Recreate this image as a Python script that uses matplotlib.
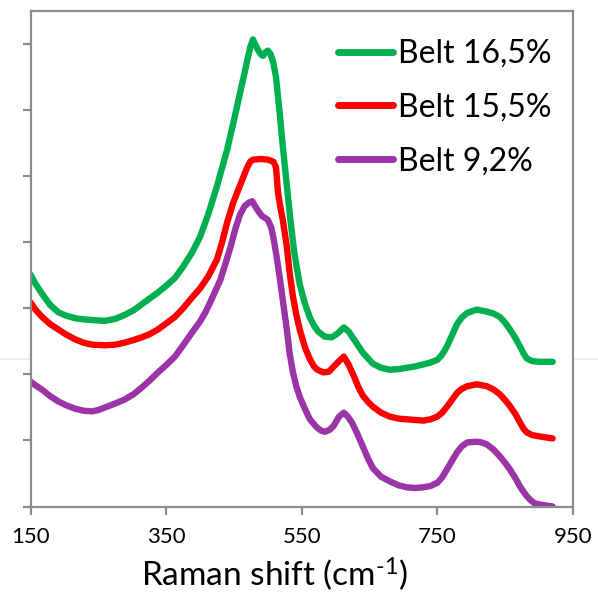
import matplotlib
matplotlib.use("Agg")
import matplotlib.pyplot as plt
from matplotlib.lines import Line2D

plt.rcParams["font.family"] = ["Lato", "DejaVu Sans"]
plt.rcParams["mathtext.fontset"] = "custom"
plt.rcParams["mathtext.rm"] = "Lato"
plt.rcParams["mathtext.it"] = "Lato:italic"
plt.rcParams["mathtext.bf"] = "Lato:bold"

# Raman spectra (arbitrary intensity units)
x_165 = [150, 158, 167, 179, 191, 202, 216, 230, 245, 260, 275, 289, 302, 314, 326,
         338, 350, 363, 375, 388, 400, 412, 425, 440, 449, 459, 469, 474, 478, 482,
         486, 490, 493, 497, 500, 504, 508, 512, 515, 518, 521, 524, 527, 530, 533,
         539, 547, 555, 562, 568, 574, 584, 594, 603, 612, 619, 627, 640, 655, 667,
         680, 693, 705, 717, 729, 740, 750, 757, 764, 772, 779, 786, 794, 808, 823,
         833, 842, 850, 857, 865, 872, 878, 882, 890, 901, 920]
y_165 = [3.51, 3.36, 3.22, 3.05, 2.94, 2.89, 2.85, 2.83, 2.82, 2.81, 2.84, 2.90, 2.97,
         3.06, 3.15, 3.24, 3.34, 3.46, 3.63, 3.84, 4.08, 4.42, 4.85, 5.40, 5.80, 6.26,
         6.72, 6.95, 7.07, 6.98, 6.90, 6.84, 6.82, 6.88, 6.90, 6.85, 6.72, 6.50, 6.20,
         5.90, 5.56, 5.26, 4.96, 4.66, 4.36, 3.84, 3.36, 3.06, 2.86, 2.74, 2.65, 2.57,
         2.56, 2.62, 2.71, 2.65, 2.53, 2.33, 2.16, 2.10, 2.07, 2.08, 2.10, 2.12, 2.15,
         2.18, 2.22, 2.30, 2.42, 2.60, 2.76, 2.86, 2.93, 2.98, 2.95, 2.92, 2.87, 2.78,
         2.68, 2.55, 2.42, 2.30, 2.24, 2.20, 2.19, 2.19]

x_155 = [150, 158, 167, 179, 191, 203, 216, 228, 241, 260, 275, 289, 302, 314, 326,
         338, 350, 363, 375, 388, 400, 412, 425, 432, 440, 449, 459, 469, 474, 478,
         490, 500, 508, 512, 515, 519, 522, 528, 532, 537, 542, 547, 555, 562, 568,
         573, 582, 590, 600, 607, 612, 619, 627, 633, 640, 648, 655, 667, 680, 693,
         705, 717, 729, 740, 750, 757, 764, 772, 779, 786, 794, 808, 823, 833, 842,
         850, 857, 865, 872, 877, 882, 890, 901, 920]
y_155 = [3.09, 2.97, 2.87, 2.76, 2.68, 2.60, 2.53, 2.48, 2.45, 2.44, 2.45, 2.48, 2.52,
         2.56, 2.61, 2.68, 2.77, 2.87, 3.00, 3.16, 3.30, 3.48, 3.74, 3.98, 4.30, 4.60,
         4.86, 5.12, 5.22, 5.25, 5.26, 5.25, 5.22, 5.14, 4.75, 4.50, 4.34, 3.93, 3.55,
         3.18, 2.90, 2.68, 2.40, 2.23, 2.12, 2.07, 2.03, 2.04, 2.15, 2.22, 2.27, 2.15,
         1.97, 1.82, 1.68, 1.58, 1.51, 1.42, 1.36, 1.33, 1.32, 1.31, 1.30, 1.32, 1.36,
         1.42, 1.51, 1.62, 1.72, 1.78, 1.82, 1.85, 1.82, 1.77, 1.70, 1.61, 1.52, 1.40,
         1.27, 1.18, 1.12, 1.08, 1.06, 1.03]

x_92 = [150, 158, 167, 179, 191, 203, 216, 228, 241, 250, 260, 275, 289, 302, 314,
        326, 338, 350, 363, 375, 388, 400, 408, 415, 422, 430, 437, 445, 452, 459,
        466, 472, 477, 484, 491, 500, 505, 508, 513, 518, 523, 528, 532, 537, 542,
        547, 555, 562, 571, 578, 584, 591, 597, 605, 612, 618, 624, 632, 640, 648,
        655, 667, 680, 693, 705, 717, 729, 740, 750, 757, 764, 772, 779, 786, 794,
        808, 815, 823, 833, 842, 850, 857, 865, 872, 880, 886, 893, 901, 920]
y_92 = [1.89, 1.83, 1.77, 1.67, 1.59, 1.53, 1.48, 1.45, 1.44, 1.46, 1.50, 1.56, 1.62,
        1.70, 1.80, 1.91, 2.03, 2.14, 2.27, 2.44, 2.63, 2.80, 2.94, 3.09, 3.25, 3.43,
        3.66, 3.93, 4.20, 4.42, 4.55, 4.60, 4.62, 4.50, 4.40, 4.34, 4.22, 4.08, 3.78,
        3.43, 3.05, 2.68, 2.33, 2.03, 1.82, 1.66, 1.47, 1.32, 1.21, 1.15, 1.13, 1.16,
        1.22, 1.36, 1.42, 1.36, 1.27, 1.10, 0.91, 0.72, 0.58, 0.45, 0.38, 0.32, 0.29,
        0.28, 0.29, 0.31, 0.36, 0.44, 0.56, 0.70, 0.82, 0.91, 0.97, 0.98, 0.97, 0.94,
        0.86, 0.76, 0.66, 0.56, 0.43, 0.30, 0.18, 0.11, 0.05, 0.03, 0.00]

labels = ["Belt 16,5%", "Belt 15,5%", "Belt 9,2%"]
colors = ["#00B050", "#FF0000", "#9B34A6"]
x_ticks = [150, 350, 550, 750, 950]

fig = plt.figure(figsize=(5.98, 5.94), dpi=100)
ax = fig.add_axes([30.5 / 598, 1 - 506.5 / 594, (573 - 30.5) / 598, (506.5 - 11) / 594])

for xs, ys, c, lab in zip([x_165, x_155, x_92], [y_165, y_155, y_92], colors, labels):
    ax.plot(xs, ys, color=c, lw=4.6, label=lab, solid_capstyle="round",
            solid_joinstyle="round")

ax.set_xlim(150, 950)
ax.set_ylim(0, 7.5)
ax.set_xticks(x_ticks)
ax.set_xticklabels([str(t) for t in x_ticks])
ax.set_yticks(range(0, 8))
ax.set_yticklabels([])

for sp in ax.spines.values():
    sp.set_color("#8C8C8C")
    sp.set_linewidth(1.6)
ax.tick_params(axis="both", direction="out", color="#8C8C8C", width=1.6)
ax.tick_params(axis="y", length=6)
ax.tick_params(axis="x", length=5.5, labelsize=16, pad=9)

ax.set_xlabel(r"Raman shift (cm$^{\text{-1}}$)", fontsize=24)
ax.xaxis.set_label_coords(0.45, -0.098)

leg = ax.legend(loc="upper left", bbox_to_anchor=(338 / 598, 1 - 39 / 594),
                bbox_transform=fig.transFigure, frameon=False, fontsize=23,
                handlelength=1.72, handletextpad=0.16, labelspacing=0.74,
                borderpad=0, borderaxespad=0)
for h in leg.get_lines():
    h.set_linewidth(5)
    h.set_solid_capstyle("round")

# faint horizontal rule across the full figure
fig.add_artist(Line2D([0, 1], [1 - 359 / 594, 1 - 359 / 594], transform=fig.transFigure,
                      color="#EFEFEF", lw=1.5, zorder=0))

fig.savefig("out.png", dpi=100)
